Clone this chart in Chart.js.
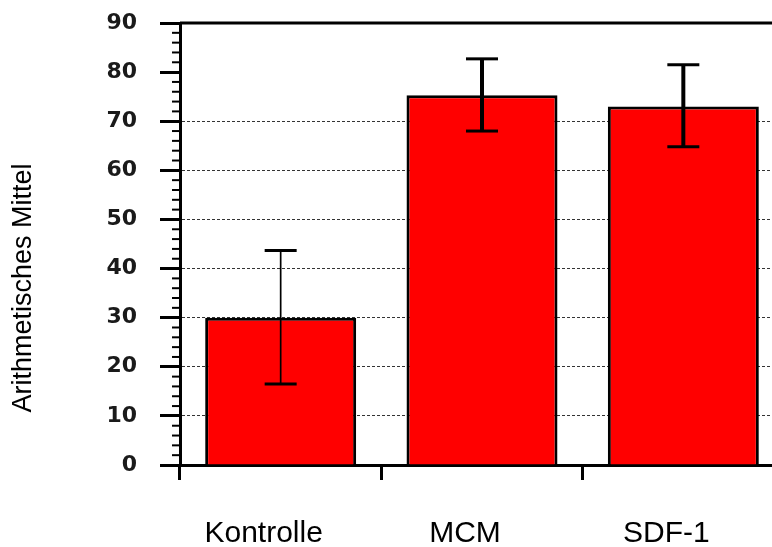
<!DOCTYPE html>
<html lang="de">
<head>
<meta charset="UTF-8">
<title>Arithmetisches Mittel</title>
<script src="https://cdn.jsdelivr.net/npm/chart.js@4.4.0/dist/chart.umd.min.js"></script>
<style>
    html, body {
        margin: 0;
        padding: 0;
        background: #fff;
        overflow: hidden;
    }

    .chart-container {
        width: 784px;
        height: 547px;
    }
</style>
</head>
<body>
<div class="chart-container">
    <canvas id="mittel-chart" width="784" height="547"></canvas>
</div>

<script>
    const categories = ['Kontrolle', 'MCM', 'SDF-1'];
    const means = [30.0, 75.3, 73.0];
    const errLow = [16.5, 68.0, 64.8];
    const errHigh = [43.7, 82.7, 81.5];
    const yTickValues = [0, 10, 20, 30, 40, 50, 60, 70, 80, 90];
    const gridValues = [10, 20, 30, 40, 50, 60, 70];
    const yTitle = 'Arithmetisches Mittel';

    // Fehlerbalken, Nebenstriche, oberer Rahmen, Achsentitel
    const extras = {
        id: 'extras',
        afterDatasetsDraw(chart) {
            const ctx = chart.ctx;
            const area = chart.chartArea;
            const y = chart.scales.y;
            const line = (x1, y1, x2, y2) => {
                ctx.beginPath();
                ctx.moveTo(x1, y1);
                ctx.lineTo(x2, y2);
                ctx.stroke();
            };

            ctx.save();
            ctx.strokeStyle = '#000';
            ctx.lineWidth = 3;
            const yTop = y.getPixelForValue(y.max);
            line(area.left, yTop, area.right, yTop);

            ctx.lineWidth = 2;
            for (let v = y.min; v <= y.max; v += 2) {
                if (v % 10 === 0) continue;
                const py = y.getPixelForValue(v);
                line(area.left - 8, py, area.left, py);
            }

            const stemWidths = [1.7, 4, 4];
            chart.getDatasetMeta(0).data.forEach((bar, i) => {
                const top = y.getPixelForValue(errHigh[i]);
                const bot = y.getPixelForValue(errLow[i]);
                ctx.lineWidth = stemWidths[i];
                line(bar.x, top, bar.x, bot);
                ctx.lineWidth = 3;
                line(bar.x - 16, top, bar.x + 16, top);
                line(bar.x - 16, bot, bar.x + 16, bot);
            });

            ctx.translate(24, 288);
            ctx.rotate(-Math.PI / 2);
            ctx.fillStyle = '#000';
            ctx.font = '27px "Liberation Sans", Arial, sans-serif';
            ctx.textAlign = 'center';
            ctx.textBaseline = 'middle';
            ctx.fillText(yTitle, 0, 0);
            ctx.restore();
        }
    };

    const ctx = document.getElementById('mittel-chart').getContext('2d');
    new Chart(ctx, {
        type: 'bar',
        data: {
            labels: categories,
            datasets: [{
                data: means,
                backgroundColor: '#ff0000',
                borderColor: '#000',
                borderWidth: 3,
                categoryPercentage: 0.75,
                barPercentage: 1
            }]
        },
        options: {
            responsive: false,
            animation: false,
            layout: { padding: { top: 23, left: 0, right: 0, bottom: 0 } },
            plugins: {
                legend: { display: false },
                tooltip: { enabled: false }
            },
            scales: {
                x: {
                    afterFit: (scale) => { scale.height = 82; },
                    grid: {
                        offset: true,
                        drawOnChartArea: false,
                        tickLength: 15,
                        tickWidth: 3,
                        tickColor: '#000'
                    },
                    border: { color: '#000', width: 3 },
                    ticks: {
                        color: '#000',
                        padding: 36,
                        labelOffset: -17,
                        font: { family: '"Liberation Sans", Arial, sans-serif', size: 30 }
                    }
                },
                y: {
                    min: 0,
                    max: 90,
                    afterFit: (scale) => {
                        scale.width = 180;
                        scale.paddingTop = 0;
                        scale.paddingBottom = 0;
                    },
                    afterBuildTicks: (scale) => {
                        scale.ticks = yTickValues.map(v => ({ value: v }));
                    },
                    grid: {
                        color: (c) => gridValues.includes(c.tick && c.tick.value) ? '#333' : 'rgba(0,0,0,0)',
                        lineWidth: 1,
                        tickLength: 20,
                        tickWidth: 3,
                        tickColor: '#000'
                    },
                    border: { color: '#000', width: 3, dash: [3, 2] },
                    ticks: {
                        color: '#1a1a1a',
                        padding: 23,
                        font: { family: '"DejaVu Sans", sans-serif', size: 22, weight: 'bold' }
                    }
                }
            }
        },
        plugins: [extras]
    });
</script>
</body>
</html>
